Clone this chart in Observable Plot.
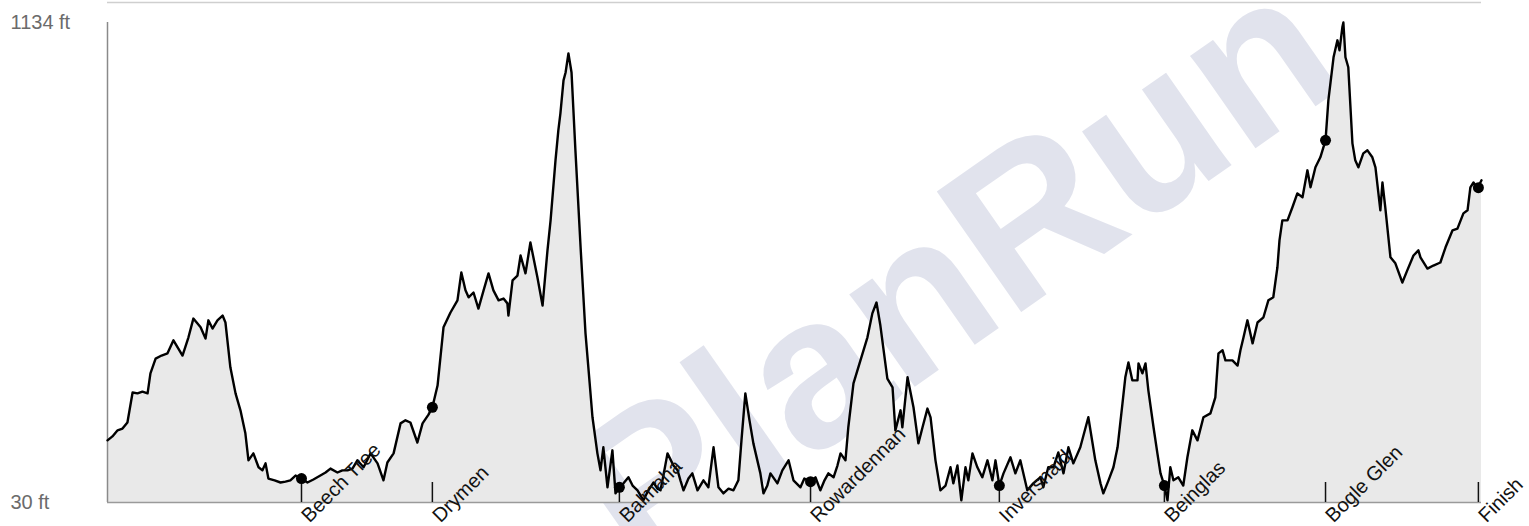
<!DOCTYPE html>
<html>
<head>
<meta charset="utf-8">
<script src="https://cdn.jsdelivr.net/npm/d3@7"></script>
<script src="https://cdn.jsdelivr.net/npm/@observablehq/plot@0.6"></script>
<style>
  html, body { margin: 0; padding: 0; background: #fff; }
  #chart { width: 1529px; height: 526px; }
</style>
</head>
<body>
<div id="chart"></div>
<script>
// Elevation profile: [distance in miles, elevation in ft]
const profile = [
  [0, 173], [0.19, 182], [0.39, 196], [0.58, 200], [0.77, 214], [0.97, 283], [1.16, 281], [1.35, 285],
  [1.55, 281], [1.66, 327], [1.86, 361], [2.09, 368], [2.32, 373], [2.55, 403], [2.74, 384], [2.90, 368],
  [3.13, 410], [3.32, 453], [3.60, 433], [3.79, 407], [3.90, 449], [4.06, 430], [4.25, 449], [4.45, 460],
  [4.56, 444], [4.75, 341], [4.95, 281], [5.14, 242], [5.33, 189], [5.45, 127], [5.64, 143], [5.84, 111],
  [5.99, 104], [6.11, 120], [6.22, 85], [6.46, 81], [6.69, 76], [6.88, 78], [7.07, 81], [7.27, 92],
  [7.50, 85], [7.73, 76], [7.96, 83], [8.23, 92], [8.43, 99], [8.62, 108], [8.89, 99], [9.08, 104],
  [9.28, 104], [9.47, 108], [9.66, 127], [9.90, 111], [10.17, 143], [10.44, 120], [10.67, 81], [10.82, 122],
  [11.06, 143], [11.33, 212], [11.52, 219], [11.71, 214], [11.98, 168], [12.18, 212], [12.41, 232], [12.56, 249],
  [12.76, 299], [12.99, 433], [13.26, 467], [13.53, 495], [13.68, 559], [13.84, 518], [13.96, 502], [14.15, 513],
  [14.34, 476], [14.54, 518], [14.73, 557], [14.92, 518], [15.12, 495], [15.31, 499], [15.46, 488], [15.50, 460],
  [15.66, 541], [15.85, 552], [15.97, 598], [16.16, 557], [16.35, 628], [16.62, 548], [16.82, 483], [17.01, 610],
  [17.13, 679], [17.32, 817], [17.43, 886], [17.51, 925], [17.63, 1001], [17.71, 1019], [17.82, 1063], [17.94, 1019],
  [18.09, 840], [18.29, 617], [18.48, 419], [18.59, 341], [18.75, 226], [18.94, 143], [19.06, 104], [19.17, 157],
  [19.33, 65], [19.52, 150], [19.64, 51], [19.79, 65], [19.95, 74], [20.14, 88], [20.30, 69], [20.49, 58],
  [20.72, 35], [20.91, 58], [21.11, 76], [21.26, 62], [21.38, 58], [21.53, 104], [21.65, 143], [21.88, 115],
  [22.04, 104], [22.15, 81], [22.27, 58], [22.46, 85], [22.61, 97], [22.81, 58], [23.04, 81], [23.23, 65],
  [23.43, 157], [23.62, 65], [23.81, 51], [24.01, 62], [24.20, 58], [24.39, 81], [24.51, 173], [24.66, 281],
  [24.82, 219], [24.97, 166], [25.24, 97], [25.36, 51], [25.51, 69], [25.63, 97], [25.90, 74], [26.09, 104],
  [26.33, 127], [26.52, 81], [26.79, 65], [26.94, 85], [27.18, 78], [27.37, 88], [27.56, 58], [27.72, 81],
  [27.87, 97], [28.07, 88], [28.22, 115], [28.34, 143], [28.53, 127], [28.64, 203], [28.84, 304], [29.11, 357],
  [29.38, 410], [29.57, 465], [29.73, 490], [29.88, 437], [30.15, 315], [30.35, 295], [30.46, 196], [30.66, 242],
  [30.73, 203], [30.93, 318], [31.16, 249], [31.35, 166], [31.51, 203], [31.70, 246], [31.82, 226], [32.01, 127],
  [32.20, 58], [32.40, 69], [32.59, 111], [32.70, 74], [32.86, 115], [33.01, 35], [33.17, 111], [33.28, 81],
  [33.44, 143], [33.63, 111], [33.82, 88], [34.02, 127], [34.21, 81], [34.33, 127], [34.48, 69], [34.64, 97],
  [34.91, 134], [35.10, 97], [35.29, 127], [35.56, 58], [35.79, 74], [36.07, 88], [36.18, 65], [36.37, 111],
  [36.57, 111], [36.76, 145], [36.96, 97], [37.15, 157], [37.34, 120], [37.61, 157], [37.92, 226], [38.19, 127],
  [38.39, 74], [38.50, 51], [38.70, 81], [38.89, 111], [39.05, 157], [39.24, 258], [39.35, 318], [39.47, 352],
  [39.62, 311], [39.82, 311], [39.86, 350], [40.01, 327], [40.13, 350], [40.24, 288], [40.44, 203], [40.59, 143],
  [40.71, 97], [40.86, 69], [40.98, 35], [41.09, 111], [41.21, 81], [41.40, 88], [41.59, 69], [41.75, 134],
  [41.94, 196], [42.14, 173], [42.37, 226], [42.64, 235], [42.83, 272], [42.95, 373], [43.11, 380], [43.22, 357],
  [43.49, 357], [43.69, 345], [43.80, 380], [43.92, 410], [44.07, 449], [44.27, 396], [44.46, 444], [44.69, 456],
  [44.88, 495], [45.07, 502], [45.23, 571], [45.31, 633], [45.42, 679], [45.62, 679], [45.81, 709], [46.00, 741],
  [46.20, 732], [46.39, 794], [46.51, 755], [46.70, 801], [46.89, 824], [47.09, 863], [47.20, 955], [47.40, 1054],
  [47.55, 1093], [47.63, 1070], [47.74, 1123], [47.78, 1134], [47.86, 1054], [47.97, 1031], [48.13, 856], [48.24, 817],
  [48.36, 801], [48.55, 833], [48.71, 840], [48.90, 824], [49.02, 801], [49.21, 702], [49.29, 766], [49.40, 709],
  [49.60, 594], [49.79, 580], [50.06, 536], [50.25, 564], [50.49, 598], [50.68, 610], [50.76, 594], [51.03, 568],
  [51.26, 575], [51.53, 582], [51.73, 617], [52.00, 656], [52.19, 660], [52.42, 695], [52.58, 702], [52.69, 755],
  [52.81, 766], [52.96, 752], [53.12, 771]
];

// Checkpoints
const checkpointNames = ["Beech Tree", "Drymen", "Balmaha", "Rowardennan", "Inversnaid", "Beinglas", "Bogle Glen", "Finish"];
const checkpointMiles = [7.50, 12.56, 19.79, 27.18, 34.48, 40.86, 47.09, 53.0];
const checkpointFeet  = [85, 249, 65, 78, 69, 69, 863, 754];

// Y tick labels (min / max elevation)
const yTicks = [30, 1134];
const yTickLabels = ["30 ft", "1134 ft"];

const watermark = ["PlanRun"];

const checkpoints = checkpointNames.map((name, i) => ({name, mi: checkpointMiles[i], ft: checkpointFeet[i]}));
const yLabels = yTicks.map((v, i) => ({v, label: yTickLabels[i]}));

const yMin = yTicks[0], yMax = yTicks[1];
const plotH = 526 - 22 - 24;
const tickFt = (yMax - yMin) * 20 / plotH; // 20px tick length

const chart = Plot.plot({
  width: 1529,
  height: 526,
  marginLeft: 107,
  marginRight: 48,
  marginTop: 22,
  marginBottom: 24,
  x: {domain: [0, 53.12], axis: null},
  y: {domain: [yMin, yMax], axis: null},
  style: {fontFamily: "'Liberation Sans', Arial, sans-serif", background: "#fff"},
  marks: [
    Plot.text(watermark, {
      text: d => d, frameAnchor: "top-left", dx: 848, dy: 252,
      rotate: -35, fontSize: 214, fontWeight: 700, fill: "#e1e3ed",
      textAnchor: "middle", lineAnchor: "middle"
    }),
    Plot.areaY(profile, {x: d => d[0], y1: () => yMin, y2: d => d[1], fill: "#e9e9e9", curve: "linear"}),
    Plot.ruleY([yMax], {dy: -20, stroke: "#cfcfcf", strokeWidth: 1.5}),
    Plot.ruleX([0], {stroke: "#8a8a8a", strokeWidth: 1.5}),
    Plot.ruleY([yMin], {stroke: "#9a9a9a", strokeWidth: 1.5}),
    Plot.line(profile, {x: d => d[0], y: d => d[1], stroke: "#000", strokeWidth: 2.4, strokeLinejoin: "round"}),
    Plot.ruleX(checkpoints, {x: "mi", y1: () => yMin, y2: () => yMin + tickFt, stroke: "#111", strokeWidth: 1.5}),
    Plot.dot(checkpoints, {x: "mi", y: "ft", r: 5.5, fill: "#000"}),
    Plot.text(checkpoints, {
      x: "mi", y: () => yMin, text: "name", dx: 8, dy: 21, rotate: -45,
      textAnchor: "start", lineAnchor: "bottom", fontSize: 20, fill: "#111"
    }),
    Plot.text(yLabels, {
      y: "v", text: "label", frameAnchor: "left", dx: -97,
      textAnchor: "start", fontSize: 20, fill: "#6b6b6b"
    })
  ]
});
document.getElementById("chart").appendChild(chart);
</script>
</body>
</html>
